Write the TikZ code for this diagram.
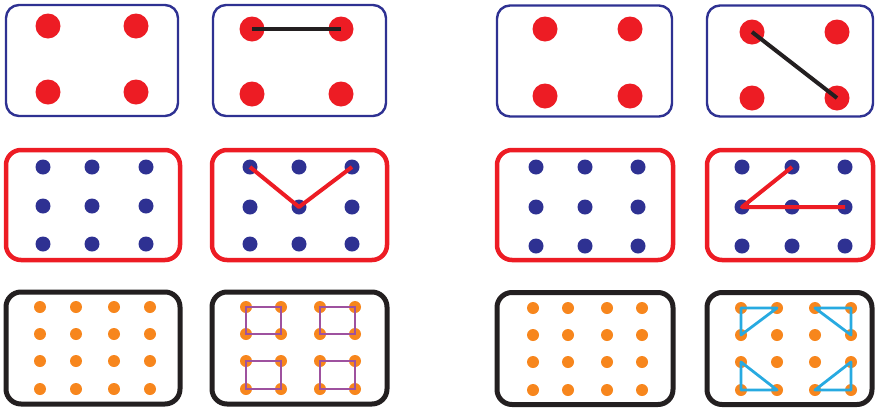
\documentclass[tikz,border=0pt]{standalone}
\definecolor{navy}{HTML}{2E3192}
\definecolor{pred}{HTML}{ED1C24}
\definecolor{porange}{HTML}{F7861D}
\definecolor{pblack}{HTML}{231F20}
\definecolor{ppurple}{HTML}{9E519F}
\definecolor{pcyan}{HTML}{27AAE1}
\begin{document}
\begin{tikzpicture}[x=1pt,y=-1pt,
  boxbase/.style={rectangle,inner sep=0pt,fill=white},
  boxone/.style={boxbase,draw=navy,line width=2.4pt,rounded corners=13pt,minimum height=111pt},
  boxtwo/.style={boxbase,draw=pred,line width=4.5pt,rounded corners=15pt,minimum height=110pt},
  boxthree/.style={boxbase,draw=pblack,line width=5pt,rounded corners=15pt,minimum height=112pt},
  bigdot/.style={circle,fill=pred,inner sep=0pt,minimum size=25pt},
  middot/.style={circle,fill=navy,inner sep=0pt,minimum size=15pt},
  smalldot/.style={circle,fill=porange,inner sep=0pt,minimum size=12pt},
  blackline/.style={draw=pblack,line width=4pt},
  redline/.style={draw=pred,line width=4pt,line join=round},
  purpleline/.style={draw=ppurple,line width=2.8pt},
  cyanline/.style={draw=pcyan,line width=2.8pt,line join=round}]
\useasboundingbox (0,0) rectangle (876,408);
% row 1 boxes
\node[boxone,minimum width=172pt] (A) at (92,60.5) {};
\node[boxone,minimum width=173pt] (B) at (299.5,60.5) {};
\node[boxone,minimum width=175pt] (C) at (584.5,61) {};
\node[boxone,minimum width=166pt] (D) at (790,61) {};
% row 2 boxes
\node[boxtwo,minimum width=174pt] (E) at (93,205) {};
\node[boxtwo,minimum width=175pt] (F) at (299.5,205) {};
\node[boxtwo,minimum width=176pt] (G) at (585,205) {};
\node[boxtwo,minimum width=166pt] (H) at (790,205) {};
% row 3 boxes
\node[boxthree,minimum width=174pt] (I) at (93,348) {};
\node[boxthree,minimum width=175pt] (J) at (299.5,348) {};
\node[boxthree,minimum width=176pt] (K) at (585,348.5) {};
\node[boxthree,minimum width=165pt] (L) at (789.5,348.5) {};
% row 1 dots
\foreach \x [count=\i] in {48,136}{\foreach \y [count=\j] in {26,92}{\node[bigdot] (A-\i-\j) at (\x,\y) {};}}
\foreach \x [count=\i] in {252,341}{\foreach \y [count=\j] in {29,94}{\node[bigdot] (B-\i-\j) at (\x,\y) {};}}
\foreach \x [count=\i] in {545,630}{\foreach \y [count=\j] in {29,96}{\node[bigdot] (C-\i-\j) at (\x,\y) {};}}
\foreach \x [count=\i] in {752,837}{\foreach \y [count=\j] in {32,98}{\node[bigdot] (D-\i-\j) at (\x,\y) {};}}
% row 2 dots
\foreach \x [count=\i] in {43,92,146}{\foreach \y [count=\j] in {167,206,244}{\node[middot] (E-\i-\j) at (\x,\y) {};}}
\foreach \x [count=\i] in {250,299,352}{\foreach \y [count=\j] in {167,207,244}{\node[middot] (F-\i-\j) at (\x,\y) {};}}
\foreach \x [count=\i] in {536,585,638}{\foreach \y [count=\j] in {167,207,246}{\node[middot] (G-\i-\j) at (\x,\y) {};}}
\foreach \x [count=\i] in {742,792,845}{\foreach \y [count=\j] in {167,207,246}{\node[middot] (H-\i-\j) at (\x,\y) {};}}
% row 3 dots
\foreach \x [count=\i] in {40,76,114,150}{\foreach \y [count=\j] in {307,334,361,389}{\node[smalldot] (I-\i-\j) at (\x,\y) {};}}
\foreach \x [count=\i] in {246,281,320,355}{\foreach \y [count=\j] in {307,334,361,389}{\node[smalldot] (J-\i-\j) at (\x,\y) {};}}
\foreach \x [count=\i] in {533,568,607,642}{\foreach \y [count=\j] in {308,335,362,390}{\node[smalldot] (K-\i-\j) at (\x,\y) {};}}
\foreach \x [count=\i] in {741,777,815,851}{\foreach \y [count=\j] in {308,335,362,390}{\node[smalldot] (L-\i-\j) at (\x,\y) {};}}
% connectors
\draw[blackline] (B-1-1.center) -- (B-2-1.center);
\draw[blackline] (D-1-1.center) -- (D-2-2.center);
\draw[redline] (F-1-1.center) -- (F-2-2.center) -- (F-3-1.center);
\draw[redline] (H-2-1.center) -- (H-1-2.center) -- (H-3-2.center);
\draw[purpleline] (J-1-1.center) -- (J-2-1.center) -- (J-2-2.center) -- (J-1-2.center) -- cycle;
\draw[purpleline] (J-3-1.center) -- (J-4-1.center) -- (J-4-2.center) -- (J-3-2.center) -- cycle;
\draw[purpleline] (J-1-3.center) -- (J-2-3.center) -- (J-2-4.center) -- (J-1-4.center) -- cycle;
\draw[purpleline] (J-3-3.center) -- (J-4-3.center) -- (J-4-4.center) -- (J-3-4.center) -- cycle;
\draw[cyanline] (L-1-1.center) -- (L-2-1.center) -- (L-1-2.center) -- cycle;
\draw[cyanline] (L-3-1.center) -- (L-4-1.center) -- (L-4-2.center) -- cycle;
\draw[cyanline] (L-1-3.center) -- (L-1-4.center) -- (L-2-4.center) -- cycle;
\draw[cyanline] (L-4-3.center) -- (L-4-4.center) -- (L-3-4.center) -- cycle;
\end{tikzpicture}
\end{document}
